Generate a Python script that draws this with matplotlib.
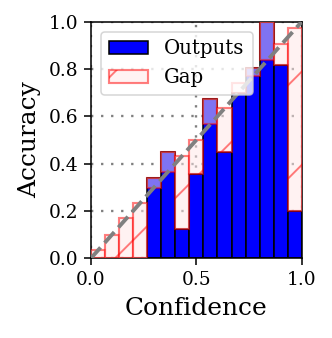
import numpy as np
import matplotlib
matplotlib.use("Agg")
import matplotlib.pyplot as plt

# per-bin values (15 bins)
n_bins = 15
accuracy = [0.0, 0.0, 0.0, 0.0, 0.338, 0.451, 0.123, 0.355, 0.673, 0.448,
            0.700, 0.803, 1.0, 0.817, 0.201]
confidence = [0.035, 0.100, 0.169, 0.235, 0.296, 0.363, 0.434, 0.500, 0.568,
              0.637, 0.740, 0.770, 0.838, 0.904, 0.972]
x_ticks = [0.0, 0.5, 1.0]
y_ticks = [0.0, 0.2, 0.4, 0.6, 0.8, 1.0]

plt.rcParams['font.family'] = 'serif'
plt.rcParams['hatch.linewidth'] = 0.5

dpi = 280
fig = plt.figure(figsize=(332 / dpi, 338 / dpi), dpi=dpi)
ax = fig.add_axes([0.274, 0.236, 0.635, 0.700])

width = 1.0 / n_bins
positions = np.arange(n_bins) * width + width / 2
acc = np.array(accuracy)
conf = np.array(confidence)

ax.grid(color='gray', linestyle=(0, (1, 3.3)), linewidth=0.6)
ax.set_axisbelow(True)

outputs = ax.bar(positions, acc, width=width, color='blue', edgecolor='black',
                 linewidth=0.4, label='Outputs', zorder=2)
gap = ax.bar(positions, conf - acc, bottom=acc, width=width,
             color=(1, 0.9, 0.9, 0.5), edgecolor=(1, 0, 0, 0.5),
             linewidth=0.55, hatch='/', label='Gap', zorder=3)

ax.plot([0, 1], [0, 1], linestyle='--', color='gray', linewidth=1.0, zorder=4)

ax.set_xlim(0, 1)
ax.set_ylim(0, 1)
ax.set_xticks(x_ticks)
ax.set_yticks(y_ticks)
ax.tick_params(labelsize=4.8, length=1.8, width=0.4, pad=1.5)
for sp in ax.spines.values():
    sp.set_linewidth(0.4)

ax.set_xlabel('Confidence', fontsize=6.4, labelpad=2.0)
ax.set_ylabel('Accuracy', fontsize=6.4, labelpad=2.0)

leg = ax.legend(handles=[outputs, gap], loc='upper left', fontsize=5.1)
leg.get_frame().set_linewidth(0.4)

fig.savefig('out.png', dpi=dpi)
